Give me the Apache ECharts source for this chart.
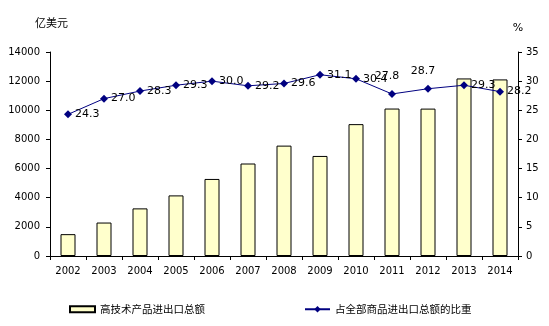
<!DOCTYPE html>
<html><head><meta charset="utf-8">
<script src="https://cdn.jsdelivr.net/npm/echarts@6/dist/echarts.min.js"></script>
<style>html,body{margin:0;padding:0;background:#fff}#c{width:549px;height:326px}</style>
</head><body><div id="c"></div>
<script>
const years = ['2002','2003','2004','2005','2006','2007','2008','2009','2010','2011','2012','2013','2014'];
const tradeValues = [1500, 2296, 3268, 4159, 5288, 6348, 7575, 6867, 9050, 10120, 10116, 12185, 12119];
const shareValues = [24.3, 27.0, 28.3, 29.3, 30.0, 29.2, 29.6, 31.1, 30.4, 27.8, 28.7, 29.3, 28.2];
const barName = '高技术产品进出口总额';
const lineName = '占全部商品进出口总额的比重';
const leftUnit = '亿美元';
const rightUnit = '%';

const font = 'DejaVu Sans, "Noto Sans CJK SC", sans-serif';
const cjk = '"Noto Sans CJK SC", sans-serif';
const chart = echarts.init(document.getElementById('c'), null, {renderer:'canvas'});
const labelPos = {9:{position:'top', distance:8, offset:[-5,0]}, 10:{position:'top', distance:8, offset:[-5,0]}};
chart.setOption({
  animation:false,
  textStyle:{fontFamily:font},
  grid:{left:50, right:31, top:52, bottom:70},
  legend:[
    {data:[{name:barName, icon:'rect'}], left:64, top:299, itemWidth:25, itemHeight:6,
     textStyle:{fontFamily:cjk, fontSize:10.5, color:'#000'}, itemGap:4},
    {data:[{name:lineName}], left:299, top:299, itemWidth:25, itemHeight:8,
     textStyle:{fontFamily:cjk, fontSize:10.5, color:'#000'}}
  ],
  xAxis:{type:'category', data:years,
    axisLine:{lineStyle:{color:'#000'}},
    axisTick:{show:true, alignWithLabel:false, length:4, lineStyle:{color:'#000'}},
    axisLabel:{color:'#000', fontSize:10, margin:10, fontFamily:font}},
  yAxis:[
    {type:'value', min:0, max:14000, interval:2000, name:leftUnit,
     nameLocation:'end', nameGap:24, nameTextStyle:{fontFamily:cjk, fontSize:11, color:'#000', align:'right', padding:[0,-18,0,0]},
     axisLine:{show:true, lineStyle:{color:'#000'}},
     axisTick:{show:true, length:4, lineStyle:{color:'#000'}},
     splitLine:{show:false},
     axisLabel:{color:'#000', fontSize:10, margin:10, formatter:v=>String(v)}},
    {type:'value', min:0, max:35, interval:5, name:rightUnit, position:'right',
     nameLocation:'end', nameGap:18, nameTextStyle:{fontSize:11, color:'#000'},
     axisLine:{show:true, lineStyle:{color:'#000'}},
     axisTick:{show:true, length:4, lineStyle:{color:'#000'}},
     splitLine:{show:false},
     axisLabel:{color:'#000', fontSize:10, margin:8}}
  ],
  series:[
    {name:barName, type:'bar', data:tradeValues, barWidth:15,
     itemStyle:{color:'#FFFFCC', borderColor:'#000', borderWidth:1}},
    {name:lineName, type:'line', yAxisIndex:1,
     data:shareValues.map((v,i)=>({value:v, label: Object.assign({position:'right', distance:3}, labelPos[i] || {})})),
     symbol:'diamond', symbolSize:8,
     lineStyle:{color:'#000080', width:1},
     itemStyle:{color:'#000080'},
     label:{show:true, color:'#000', fontSize:11, formatter:p=>p.value.toFixed(1)}}
  ]
});
</script></body></html>
